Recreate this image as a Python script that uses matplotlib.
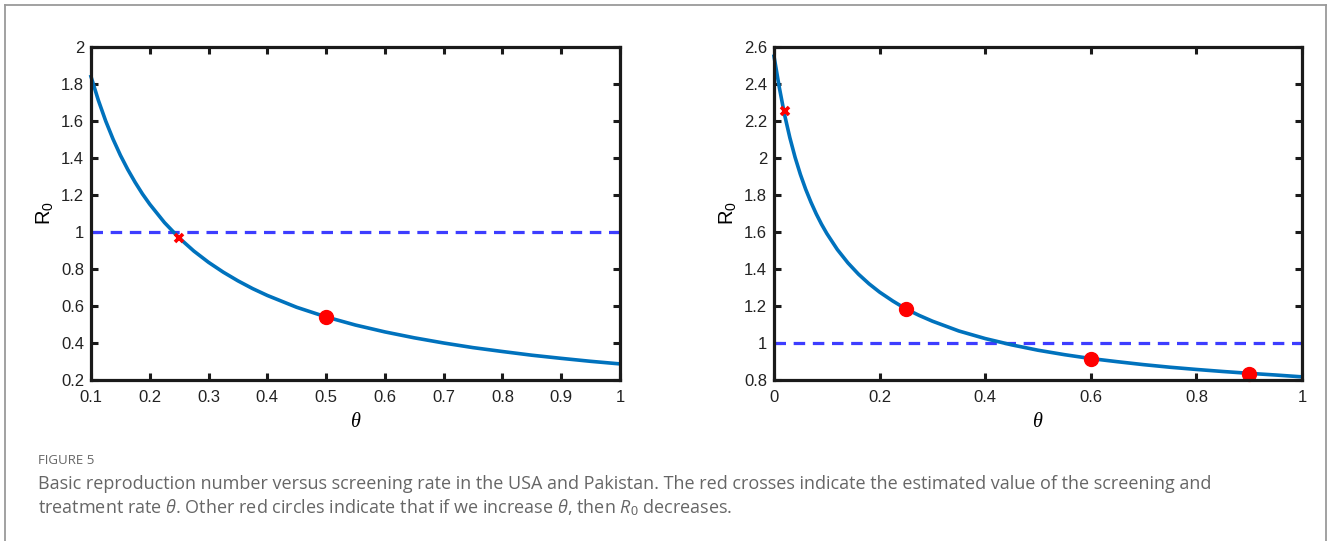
import numpy as np
import matplotlib
matplotlib.use('Agg')
import matplotlib.pyplot as plt
from matplotlib.lines import Line2D
from matplotlib.ticker import FormatStrFormatter

plt.rcParams['font.family'] = ['Liberation Sans', 'DejaVu Sans']
plt.rcParams['mathtext.fontset'] = 'custom'
plt.rcParams['mathtext.rm'] = 'Liberation Sans'
plt.rcParams['mathtext.it'] = 'Liberation Serif:italic'
plt.rcParams['mathtext.sf'] = 'Open Sans:italic'

# USA (left panel): R0 versus theta
usa_theta = [0.1, 0.1125, 0.125, 0.1375, 0.15, 0.1625, 0.175, 0.1875, 0.2,
             0.225, 0.25, 0.275, 0.3, 0.325, 0.35, 0.375, 0.4, 0.45, 0.5,
             0.55, 0.6, 0.65, 0.7, 0.75, 0.8, 0.85, 0.9, 0.95, 1.0]
usa_r0 = [1.840, 1.712, 1.600, 1.502, 1.415, 1.338, 1.269, 1.206, 1.150,
          1.051, 0.968, 0.897, 0.836, 0.783, 0.736, 0.694, 0.657, 0.593, 0.541,
          0.497, 0.460, 0.428, 0.400, 0.375, 0.354, 0.334, 0.317, 0.301, 0.287]
usa_cross = (0.25, 0.968)
usa_circles_theta = [0.5]
usa_circles_r0 = [0.54]

# Pakistan (right panel)
pak_theta = [0.0, 0.01, 0.02, 0.03, 0.04, 0.05, 0.06, 0.07, 0.08, 0.09, 0.1,
             0.12, 0.14, 0.16, 0.18, 0.2, 0.225, 0.25, 0.275, 0.3, 0.35, 0.4,
             0.45, 0.5, 0.55, 0.6, 0.65, 0.7, 0.75, 0.8, 0.85, 0.9, 0.95, 1.0]
pak_r0 = [2.550, 2.382, 2.234, 2.110, 2.003, 1.911, 1.831, 1.761, 1.698,
          1.642, 1.592, 1.505, 1.433, 1.372, 1.320, 1.275, 1.227, 1.184, 1.149,
          1.118, 1.065, 1.024, 0.990, 0.961, 0.937, 0.916, 0.899, 0.883, 0.869,
          0.857, 0.846, 0.836, 0.827, 0.817]
pak_cross = (0.02, 2.256)
pak_circles_theta = [0.25, 0.6, 0.9]
pak_circles_r0 = [1.183, 0.913, 0.833]

W, H = 1328, 541
fig = plt.figure(figsize=(W / 100, H / 100), dpi=100)
fig.patch.set_facecolor('white')


def px_axes(x0, x1, y0, y1):
    return fig.add_axes([x0 / W, 1 - y1 / H, (x1 - x0) / W, (y1 - y0) / H])


def style_axes(ax, xlim, ylim, xticks, yticks):
    ax.set_xlim(*xlim)
    ax.set_ylim(*ylim)
    ax.set_xticks(xticks)
    ax.set_yticks(yticks)
    ax.xaxis.set_major_formatter(FormatStrFormatter('%g'))
    ax.yaxis.set_major_formatter(FormatStrFormatter('%g'))
    for s in ax.spines.values():
        s.set_linewidth(2.3)
        s.set_color('#1a1a1a')
        s.set_zorder(5)
    ax.tick_params(direction='in', top=True, right=True, length=5, width=2.2,
                   labelsize=12, colors='#1a1a1a', labelcolor='#222222')
    ax.tick_params(axis='x', pad=7)
    ax.tick_params(axis='y', pad=5)


def draw_panel(ax, theta, r0, cross, ct, cr):
    ax.plot(theta, r0, color='#0072BD', lw=2.6, zorder=3, clip_on=False,
            solid_joinstyle='round')
    ln = ax.axhline(1.0, color='#3d3dff', lw=2.3, zorder=2)
    ln.set_dashes([3.6, 2.4])
    ax.plot(ct, cr, 'o', color='#ff0000', ms=10, mec='#ff0000', zorder=4,
            clip_on=False)
    ax.plot([cross[0]], [cross[1]], 'x', color='#ff0000', ms=6, mew=2.6, zorder=4)
    ax.set_ylabel('R$_0$', fontsize=14.5, labelpad=4)
    ax.set_xlabel(r'$\theta$', fontsize=14.5, labelpad=5)


ax1 = px_axes(91, 620, 47, 380)
style_axes(ax1, (0.1, 1.0), (0.2, 2.0), np.arange(0.1, 1.01, 0.1),
           np.arange(0.2, 2.01, 0.2))
draw_panel(ax1, usa_theta, usa_r0, usa_cross, usa_circles_theta, usa_circles_r0)

ax2 = px_axes(774, 1302, 47, 380)
style_axes(ax2, (0.0, 1.0), (0.8, 2.6), np.arange(0.0, 1.01, 0.2),
           np.arange(0.8, 2.61, 0.2))
draw_panel(ax2, pak_theta, pak_r0, pak_cross, pak_circles_theta, pak_circles_r0)

# outer frame (open at the bottom)
fc = '#9a9a9a'
fig.add_artist(Line2D([5 / W, 5 / W], [0, 1 - 5 / H], color=fc, lw=1.3))
fig.add_artist(Line2D([5 / W, 1326 / W], [1 - 5 / H, 1 - 5 / H], color=fc, lw=1.3))
fig.add_artist(Line2D([1326 / W, 1326 / W], [0, 1 - 5 / H], color=fc, lw=1.3))

cap_color = '#666666'
fig.text(38 / W, 1 - 460 / H, 'FIGURE 5', fontsize=9.5, color=cap_color,
         family='Open Sans', va='center')
fig.text(38 / W, 1 - 484 / H,
         'Basic reproduction number versus screening rate in the USA and Pakistan. '
         'The red crosses indicate the estimated value of the screening and',
         fontsize=13, color=cap_color, family='Open Sans', va='center')
fig.text(38 / W, 1 - 508 / H,
         r'treatment rate $\mathsf{\theta}$. Other red circles indicate that if we '
         r'increase $\mathsf{\theta}$, then $\mathsf{R}_0$ decreases.',
         fontsize=13, color=cap_color, family='Open Sans', va='center')

fig.savefig('out.png', dpi=100, facecolor='white')
